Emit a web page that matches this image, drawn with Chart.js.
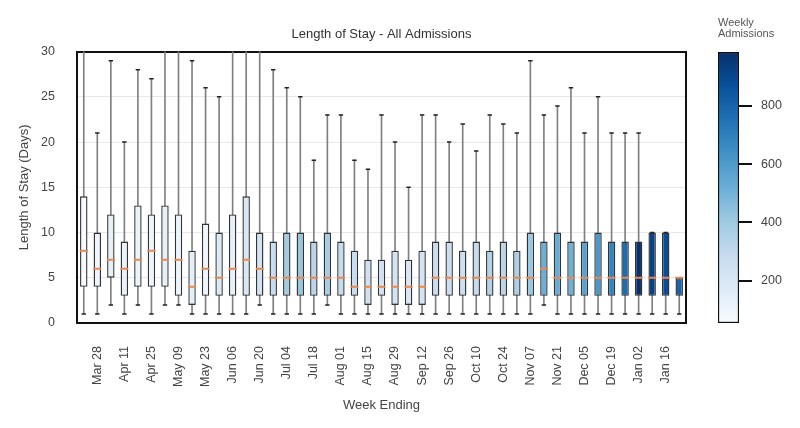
<!DOCTYPE html>
<html>
<head>
<meta charset="utf-8">
<title>Length of Stay - All Admissions</title>
<script src="https://cdn.jsdelivr.net/npm/chart.js@4.4.1/dist/chart.umd.min.js"></script>
<style>
    body { margin: 0; background: #ffffff; }
    #wrap { position: relative; width: 800px; height: 428px; }
    canvas { position: absolute; left: 0; top: 0; }
</style>
</head>
<body>
<div id="wrap">
    <canvas id="boxChart" width="800" height="428"></canvas>
    <canvas id="barChart" width="800" height="428"></canvas>
</div>
<script>
// Week ending dates (one box per week)
let weeks = [
    "Mar 21", "Mar 28", "Apr 04", "Apr 11", "Apr 18", "Apr 25", "May 02", "May 09", "May 16",
    "May 23", "May 30", "Jun 06", "Jun 13", "Jun 20", "Jun 27", "Jul 04", "Jul 11", "Jul 18",
    "Jul 25", "Aug 01", "Aug 08", "Aug 15", "Aug 22", "Aug 29", "Sep 05", "Sep 12", "Sep 19",
    "Sep 26", "Oct 03", "Oct 10", "Oct 17", "Oct 24", "Oct 31", "Nov 07", "Nov 14", "Nov 21",
    "Nov 28", "Dec 05", "Dec 12", "Dec 19", "Dec 26", "Jan 02", "Jan 09", "Jan 16", "Jan 23"
];

// Box plot statistics per week (days)
let whiskerLow = [1, 1, 2, 1, 2, 1, 2, 2, 1, 1, 1, 1, 1, 2, 1, 1, 1, 1, 2, 1, 1, 1, 1, 1, 1, 1, 1, 1, 1, 1, 1, 1, 1, 1, 2, 1, 1, 1, 1, 1, 1, 1, 1, 1, 1];
let quartile1 = [4, 4, 5, 3, 4, 4, 4, 3, 2, 3, 3, 3, 3, 3, 3, 3, 3, 3, 3, 3, 3, 2, 3, 2, 2, 2, 3, 3, 3, 3, 3, 3, 3, 3, 3, 3, 3, 3, 3, 3, 3, 3, 3, 3, 3];
let medians = [8, 6, 7, 6, 7, 8, 7, 7, 4, 6, 5, 6, 7, 6, 5, 5, 5, 5, 5, 5, 4, 4, 4, 4, 4, 4, 5, 5, 5, 5, 5, 5, 5, 5, 6, 5, 5, 5, 5, 5, 5, 5, 5, 5, 5];
let quartile3 = [14, 10, 12, 9, 13, 12, 13, 12, 8, 11, 10, 12, 14, 10, 9, 10, 10, 9, 10, 9, 8, 7, 7, 8, 7, 8, 9, 9, 8, 9, 8, 9, 8, 10, 9, 10, 9, 9, 10, 9, 9, 9, 10, 10, 5];
let whiskerHigh = [34, 21, 29, 20, 28, 27, 33, 32, 29, 26, 25, 31, 35, 32, 28, 26, 25, 18, 23, 23, 18, 17, 23, 20, 15, 23, 23, 20, 22, 19, 23, 22, 21, 29, 23, 24, 26, 21, 25, 21, 21, 21, 10, 10, 5];

// Weekly admissions, used for the box colours
let admissions = [55, 95, 130, 120, 110, 100, 130, 105, 140, 90, 180, 130, 190, 230, 270, 390, 420, 320, 380, 290, 270, 240, 240, 220, 190, 220, 270, 260, 260, 280, 340, 320, 360, 410, 520, 530, 510, 570, 610, 690, 770, 985, 920, 880, 800];

// Tick labels
let yTicks = [0, 5, 10, 15, 20, 25, 30];
let colorbarTicks = [200, 400, 600, 800];

// Matplotlib "Blues" colour map anchors
let blues = ["#f7fbff", "#deebf7", "#c6dbef", "#9ecae1", "#6baed6", "#4292c6", "#2171b5", "#08519c", "#08306b"];

let cbMin = Math.min(...admissions);
let cbMax = Math.max(...admissions);

// Converts a hex colour to an rgb array
function hexToRgb(hex) {
    return [parseInt(hex.slice(1, 3), 16), parseInt(hex.slice(3, 5), 16), parseInt(hex.slice(5, 7), 16)];
}

// Looks up a colour on the Blues map for a value between cbMin and cbMax
function bluesColor(value) {
    let t = (value - cbMin) / (cbMax - cbMin);
    t = Math.max(0, Math.min(1, t));
    let pos = t * (blues.length - 1);
    let i = Math.min(Math.floor(pos), blues.length - 2);
    let f = pos - i;
    let a = hexToRgb(blues[i]);
    let b = hexToRgb(blues[i + 1]);
    let rgb = a.map((c, k) => Math.round(c + (b[k] - c) * f));
    return "rgb(" + rgb.join(",") + ")";
}

// Build the datasets from the small arrays above
let boxRanges = [];
let whiskerRanges = [];
let boxColors = [];
for (let i = 0; i < weeks.length; i++) {
    boxRanges.push([quartile1[i], quartile3[i]]);
    whiskerRanges.push([whiskerLow[i], whiskerHigh[i]]);
    boxColors.push(bluesColor(admissions[i]));
}

Chart.defaults.font.family = "'Liberation Sans', Arial, sans-serif";
Chart.defaults.color = "#444";

let frame = { display: true, color: "#111", width: 2 };

// Main box plot
new Chart(document.getElementById("boxChart"), {
    type: "bar",
    data: {
        labels: weeks,
        datasets: [
            {
                type: "line", data: medians, showLine: false, xAxisID: "x", yAxisID: "y",
                pointStyle: "line", pointRadius: 4, pointHoverRadius: 4, pointBorderWidth: 2,
                pointBorderColor: "#e8874f", borderColor: "#e8874f", order: 0, clip: 0
            },
            {
                type: "bar", data: boxRanges, xAxisID: "x", yAxisID: "y",
                backgroundColor: boxColors, borderColor: "#333", borderWidth: 1.4, borderSkipped: false,
                barPercentage: 0.55, categoryPercentage: 1, grouped: false, order: 1, clip: 0
            },
            {
                type: "line", data: whiskerHigh, showLine: false, xAxisID: "x", yAxisID: "y",
                pointStyle: "line", pointRadius: 2.2, pointHoverRadius: 2.2, pointBorderWidth: 1.5,
                pointBorderColor: "#222", borderColor: "#222", order: 2, clip: 0
            },
            {
                type: "line", data: whiskerLow, showLine: false, xAxisID: "x", yAxisID: "y",
                pointStyle: "line", pointRadius: 2.2, pointHoverRadius: 2.2, pointBorderWidth: 1.5,
                pointBorderColor: "#222", borderColor: "#222", order: 2, clip: 0
            },
            {
                type: "bar", data: whiskerRanges, xAxisID: "x", yAxisID: "y",
                backgroundColor: "#808080", barThickness: 1, borderWidth: 0,
                grouped: false, order: 3, clip: 0
            }
        ]
    },
    options: {
        responsive: false,
        animation: false,
        events: [],
        layout: { padding: { left: 0, right: 114, top: 0, bottom: 0 } },
        plugins: {
            legend: { display: false },
            tooltip: { enabled: false },
            title: {
                display: true,
                text: "Length of Stay - All Admissions",
                fullSize: false,
                color: "#333",
                font: { size: 13, weight: "normal" },
                padding: { top: 27, bottom: 9 }
            }
        },
        scales: {
            x: {
                type: "category",
                offset: true,
                grid: { display: false, drawTicks: false },
                border: frame,
                ticks: {
                    autoSkip: false,
                    minRotation: 90,
                    maxRotation: 90,
                    padding: 23,
                    font: { size: 12.5 },
                    callback: function (value, index) {
                        return index % 2 === 1 ? weeks[index] : "";
                    }
                },
                title: { display: true, text: "Week Ending", font: { size: 13 }, color: "#444", padding: { top: 0, bottom: 15 } },
                afterFit: function (scale) { scale.height = 105; }
            },
            y: {
                min: 0,
                max: 30,
                grid: { color: "#e8e8e8", drawTicks: false },
                border: frame,
                afterBuildTicks: function (scale) { scale.ticks = yTicks.map(v => ({ value: v })); },
                ticks: { padding: 22, font: { size: 12.5 } },
                title: { display: true, text: "Length of Stay (Days)", font: { size: 13 }, color: "#444", padding: { top: 17, bottom: 0 } },
                afterFit: function (scale) { scale.width = 77; }
            },
            xTop: {
                type: "category",
                position: "top",
                grid: { display: false, drawTicks: false },
                ticks: { display: false },
                border: frame,
                afterFit: function (scale) { scale.height = 0; }
            },
            yRight: {
                type: "linear",
                position: "right",
                min: 0,
                max: 30,
                grid: { display: false, drawTicks: false },
                ticks: { display: false },
                border: frame,
                afterFit: function (scale) { scale.width = 0; }
            }
        }
    }
});

// Builds the vertical gradient for the colour bar through the y scale
function colorbarGradient(context) {
    let chart = context.chart;
    if (!chart.chartArea) {
        return null;
    }
    let yScale = chart.scales.y;
    let bottom = yScale.getPixelForValue(cbMin);
    let top = yScale.getPixelForValue(cbMax);
    let g = chart.ctx.createLinearGradient(0, bottom, 0, top);
    for (let i = 0; i < blues.length; i++) {
        g.addColorStop(i / (blues.length - 1), blues[i]);
    }
    return g;
}

// Colour bar for the weekly admissions
new Chart(document.getElementById("barChart"), {
    type: "bar",
    data: {
        labels: [""],
        datasets: [{
            data: [[cbMin, cbMax]],
            backgroundColor: colorbarGradient,
            borderColor: "#111",
            borderWidth: 1.5,
            borderSkipped: false,
            barPercentage: 1,
            categoryPercentage: 1
        }]
    },
    options: {
        responsive: false,
        animation: false,
        events: [],
        layout: { padding: { left: 718, right: 0, top: 0, bottom: 105 } },
        plugins: {
            legend: { display: false },
            tooltip: { enabled: false },
            title: {
                display: true,
                text: ["Weekly", "Admissions"],
                align: "start",
                color: "#555",
                font: { size: 11, weight: "normal", lineHeight: 1 },
                padding: { top: 17, bottom: 13 }
            }
        },
        scales: {
            x: { display: false },
            y: {
                position: "right",
                min: cbMin,
                max: cbMax,
                afterBuildTicks: function (scale) { scale.ticks = colorbarTicks.map(v => ({ value: v })); },
                grid: { drawOnChartArea: false, tickLength: 13, color: "#111", lineWidth: 2 },
                border: { display: false },
                ticks: { padding: 9, font: { size: 12.5 }, color: "#444" },
                afterFit: function (scale) { scale.width = 61; }
            }
        }
    }
});
</script>
</body>
</html>
